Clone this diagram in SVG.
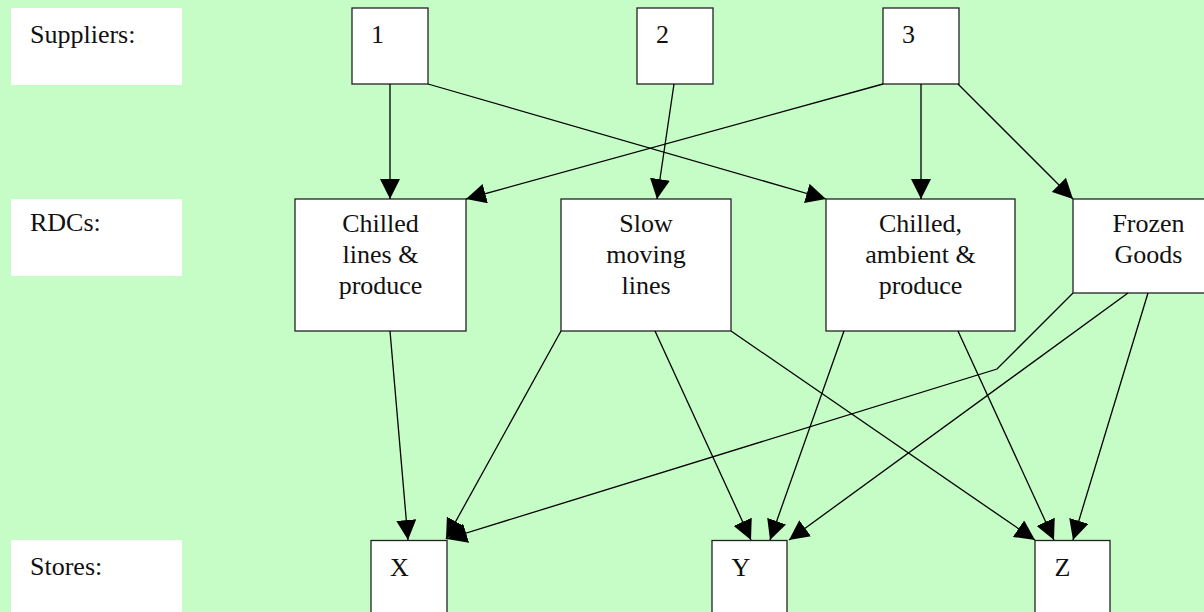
<svg xmlns="http://www.w3.org/2000/svg" width="1204" height="612" viewBox="0 0 1204 612">
  <style>
    .lbl { fill: #ffffff; stroke: none; }
    .node rect { fill: #ffffff; stroke: #222222; stroke-width: 1.3; }
    text { font-family: "Liberation Serif", "Times New Roman", serif; font-size: 26px; fill: #111111; }
    .c { text-anchor: middle; }
    #edges path { fill: none; stroke: #000000; stroke-width: 1.3; marker-end: url(#arrow); }
  </style>
  <defs>
    <marker id="arrow" viewBox="0 0 20 20" refX="20" refY="10" markerWidth="20" markerHeight="20" markerUnits="userSpaceOnUse" orient="auto">
      <path d="M0,0 L20,10 L0,20 Z" fill="#000000"/>
    </marker>
  </defs>

  <rect width="1204" height="612" fill="#c6fcc6"/>

  <!-- tier labels -->
  <g id="label-suppliers">
    <rect class="lbl" x="11" y="8" width="171" height="77"/>
    <text x="30" y="43">Suppliers:</text>
  </g>
  <g id="label-rdcs">
    <rect class="lbl" x="11" y="199" width="171" height="77"/>
    <text x="30" y="231">RDCs:</text>
  </g>
  <g id="label-stores">
    <rect class="lbl" x="11" y="540" width="171" height="77"/>
    <text x="30" y="575">Stores:</text>
  </g>

  <!-- suppliers -->
  <g id="supplier-1" class="node">
    <rect x="352" y="8" width="76" height="76"/>
    <text x="371" y="43">1</text>
  </g>
  <g id="supplier-2" class="node">
    <rect x="637" y="8" width="76" height="76"/>
    <text x="656" y="43">2</text>
  </g>
  <g id="supplier-3" class="node">
    <rect x="883" y="8" width="76" height="76"/>
    <text x="902" y="43">3</text>
  </g>

  <!-- regional distribution centres -->
  <g id="rdc-chilled" class="node">
    <rect x="295" y="199" width="171" height="132"/>
    <text class="c" x="380.5" y="231.5">Chilled</text>
    <text class="c" x="380.5" y="262.5">lines &amp;</text>
    <text class="c" x="380.5" y="293.5">produce</text>
  </g>
  <g id="rdc-slow" class="node">
    <rect x="561" y="199" width="170" height="132"/>
    <text class="c" x="646" y="231.5">Slow</text>
    <text class="c" x="646" y="262.5">moving</text>
    <text class="c" x="646" y="293.5">lines</text>
  </g>
  <g id="rdc-ambient" class="node">
    <rect x="826" y="199" width="189" height="132"/>
    <text class="c" x="920.5" y="231.5">Chilled,</text>
    <text class="c" x="920.5" y="262.5">ambient &amp;</text>
    <text class="c" x="920.5" y="293.5">produce</text>
  </g>
  <g id="rdc-frozen" class="node">
    <rect x="1073" y="199" width="151" height="94"/>
    <text class="c" x="1148.5" y="231.5">Frozen</text>
    <text class="c" x="1148.5" y="262.5">Goods</text>
  </g>

  <!-- stores -->
  <g id="store-x" class="node">
    <rect x="371" y="540.5" width="76" height="76"/>
    <text x="390" y="576">X</text>
  </g>
  <g id="store-y" class="node">
    <rect x="712" y="540.5" width="75" height="76"/>
    <text x="731.5" y="576">Y</text>
  </g>
  <g id="store-z" class="node">
    <rect x="1035" y="540.5" width="75" height="76"/>
    <text x="1054.5" y="576">Z</text>
  </g>

  <!-- flows -->
  <g id="edges">
    <path d="M390,84 L390,199"/>
    <path d="M428,84 L826,199"/>
    <path d="M674,84 L657,199"/>
    <path d="M883,84 L466,199"/>
    <path d="M921,84 L921,199"/>
    <path d="M958,84 L1073,199"/>
    <path d="M390,331 L408,540"/>
    <path d="M561,331 L446,539"/>
    <path d="M1073,293 L997,369 L447,539"/>
    <path d="M655,331 L751,540"/>
    <path d="M731,331 L1035,540"/>
    <path d="M844,331 L770,540"/>
    <path d="M1128,293 L789,540"/>
    <path d="M958,331 L1054,540"/>
    <path d="M1148,293 L1073,540"/>
  </g>
</svg>
